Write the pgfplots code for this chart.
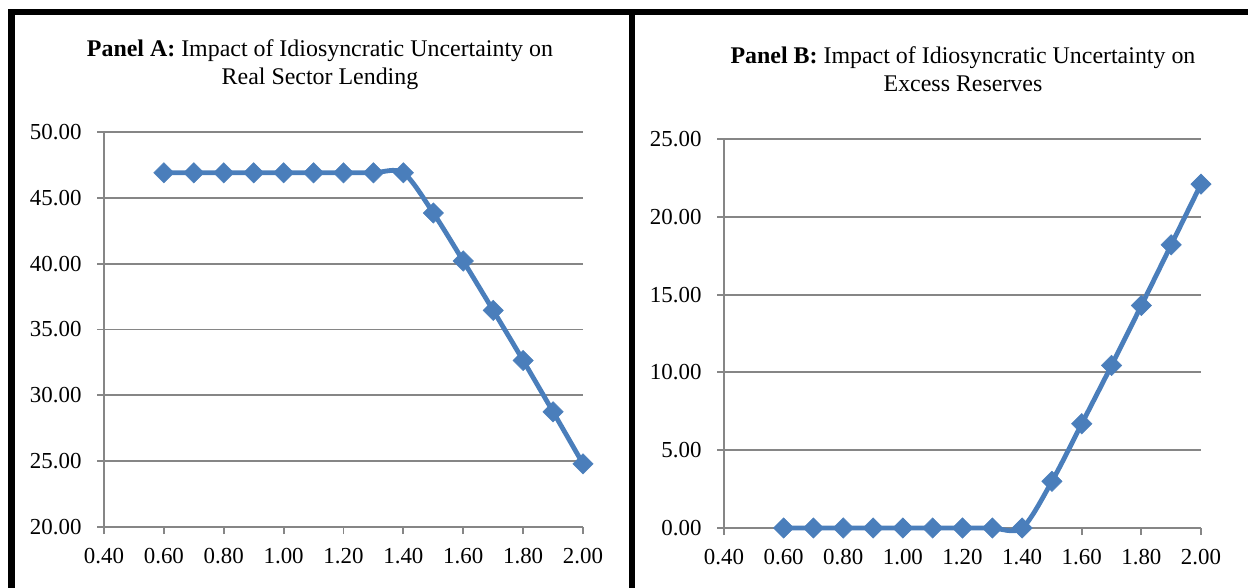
\documentclass[border=0pt]{standalone}
\usepackage{fontspec}
\setmainfont{Liberation Serif}
\usepackage{pgfplots}
\pgfplotsset{compat=1.18}
\definecolor{exblue}{HTML}{4A7EBB}
\definecolor{exgray}{HTML}{868686}
\pgfplotsset{
  panel/.style={
    scale only axis,
    anchor=south west,
    axis lines=left,
    axis line style={exgray, line width=1.9bp, -},
    xmin=0.4, xmax=2.0,
    xtick={0.4,0.6,...,2.01},
    tick align=outside,
    major tick length=7bp,
    tick style={exgray, line width=1.9bp},
    ymajorgrids,
    grid style={exgray, line width=1.9bp},
    /pgf/number format/assume math mode=true,
    /pgf/number format/fixed,
    /pgf/number format/fixed zerofill,
    /pgf/number format/precision=2,
    tick label style={font=\fontsize{23}{26}\selectfont, text=black},
    yticklabel style={xshift=-12bp},
    xticklabel style={yshift=-11bp},
    clip=false,
  },
  ser/.style={exblue, line width=4.8bp, smooth, tension=0.5,
    mark=square*, mark size=7.2bp,
    mark options={rotate=45, fill=exblue, draw=exblue, line width=0.5bp}},
}
\begin{document}
\begin{tikzpicture}
\useasboundingbox (0bp,0bp) rectangle (1248bp,588bp);
% frames
\draw[line width=6.5bp] (11.5bp,0bp) -- (11.5bp,576bp) ;
\draw[line width=6bp] (8.25bp,576bp) -- (1248bp,576bp);
\draw[line width=6.5bp] (632bp,0bp) -- (632bp,576bp);
% titles
\node[align=center, font=\fontsize{24}{28.5}\selectfont, anchor=center] at (320bp,523.5bp)
  {\textbf{Panel A:} Impact of Idiosyncratic Uncertainty on\\Real Sector Lending};
\node[align=center, font=\fontsize{24}{28.5}\selectfont, anchor=center] at (963bp,519bp)
  {\textbf{Panel B:} Impact of Idiosyncratic Uncertainty on\\Excess Reserves};
\begin{axis}[panel, at={(104bp,61bp)}, width=479bp, height=395bp,
  ymin=20, ymax=50, ytick={20,25,...,50}]
\addplot[ser] coordinates {
(0.6,46.9) (0.7,46.9) (0.8,46.9) (0.9,46.9) (1.0,46.9) (1.1,46.9) (1.2,46.9) (1.3,46.9) (1.4,46.9)
(1.5,43.85) (1.6,40.2) (1.7,36.45) (1.8,32.65) (1.9,28.75) (2.0,24.8)};
\end{axis}
\begin{axis}[panel, at={(724bp,60bp)}, width=477bp, height=389bp,
  ymin=0, ymax=25, ytick={0,5,...,25}]
\addplot[ser] coordinates {
(0.6,0) (0.7,0) (0.8,0) (0.9,0) (1.0,0) (1.1,0) (1.2,0) (1.3,0) (1.4,0)
(1.5,3.0) (1.6,6.7) (1.7,10.45) (1.8,14.3) (1.9,18.2) (2.0,22.1)};
\end{axis}
\end{tikzpicture}
\end{document}
